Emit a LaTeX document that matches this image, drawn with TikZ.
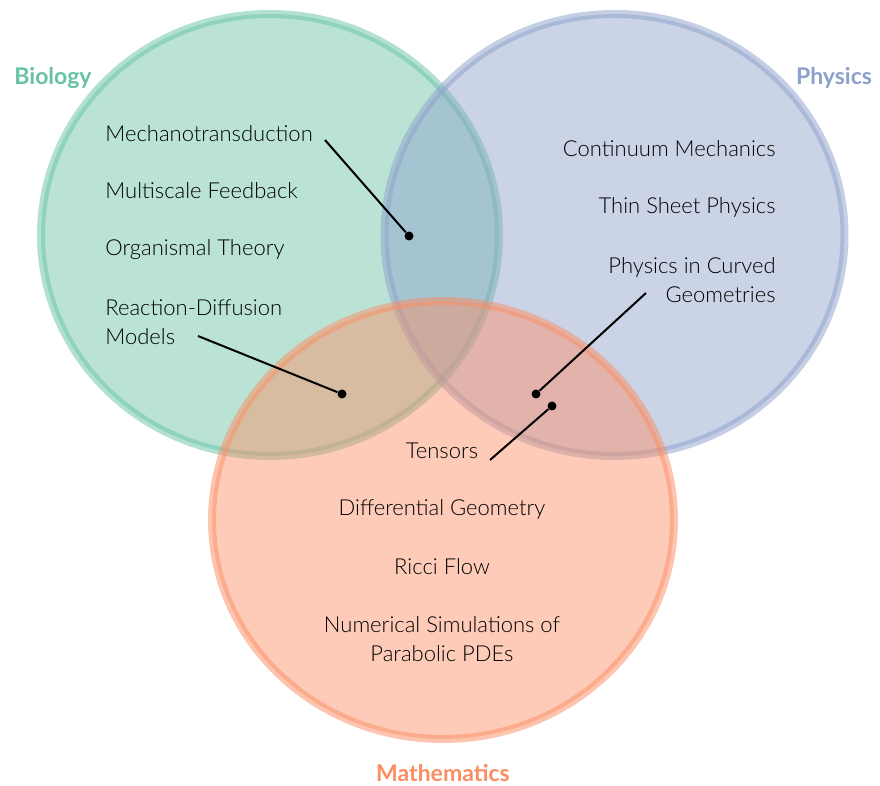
\documentclass[tikz,border=0pt]{standalone}
\usepackage{fontspec}
\setmainfont{Lato Light}[BoldFont={Lato Bold}]
\usepackage{tikz}
\definecolor{bio}{HTML}{66C2A5}
\definecolor{phy}{HTML}{8DA0CB}
\definecolor{mat}{HTML}{FC8D62}
\tikzset{
  setcircle/.style={line width=4pt, draw=#1, draw opacity=0.5, fill=#1, fill opacity=0.45},
  topic/.style={inner sep=0pt, font=\fontsize{11}{14.5}\selectfont},
  field/.style={inner sep=0pt, font=\fontsize{11.5}{14}\selectfont\bfseries, text=#1},
  pin/.style={circle, fill=black, inner sep=0pt, minimum size=4.5pt},
  link/.style={line width=1pt, black},
}
\begin{document}
\begin{tikzpicture}[x=0.5pt, y=-0.5pt]
      \useasboundingbox[fill=white] (0,0) rectangle (880,786);
      % the three sets
      \draw[setcircle=bio] (270,235) ellipse[x radius=114.5pt, y radius=110.5pt];
      \draw[setcircle=phy] (614.5,235) ellipse[x radius=115pt, y radius=110.5pt];
      \draw[setcircle=mat] (443,520) ellipse[x radius=115.5pt, y radius=109.5pt];
      \node[field=bio] (biology) at (53,78) {Biology};
      \node[field=phy] (physics) at (834,78) {Physics};
      \node[field=mat] (maths) at (443,773) {Mathematics};
      % biology topics
      \node[topic, anchor=west] (mech) at (105,134) {Mechanotransduction};
      \node[topic, anchor=west] (multi) at (105,191) {Multiscale Feedback};
      \node[topic, anchor=west] (organ) at (105,250) {Organismal Theory};
      \node[topic, anchor=west, align=left] (react) at (105,322) {Reaction-Diffusion\\Models};
      % physics topics
      \node[topic, anchor=east] (cont) at (776,149) {Continuum Mechanics};
      \node[topic, anchor=east] (thin) at (776,207) {Thin Sheet Physics};
      \node[topic, anchor=east, align=right] (curved) at (776,280) {Physics in Curved\\Geometries};
      % mathematics topics
      \node[topic] (tensors) at (442,451) {Tensors};
      \node[topic] (diffgeo) at (442,509) {Differential Geometry};
      \node[topic] (ricci) at (442,567) {Ricci Flow};
      \node[topic, align=center] (numsim) at (442,639) {Numerical Simulations of\\Parabolic PDEs};
      % pins in the overlaps
      \node[pin] (pbp) at (409,236) {};
      \node[pin] (pbm) at (342,394) {};
      \node[pin] (ppm) at (536,394) {};
      \node[pin] (pmp) at (552,406) {};
      \coordinate (mechend) at (325,140);
      \coordinate (reactend) at (198,336);
      \coordinate (curvedend) at (646,293);
      \coordinate (tensorsend) at (490,460);
      % mechanotransduction -> biology/physics
      \draw[link] (mechend) -- (pbp);
      % reaction-diffusion -> biology/maths
      \draw[link] (reactend) -- (pbm);
      % curved geometries -> physics/maths
      \draw[link] (curvedend) -- (ppm);
      % tensors -> maths/physics
      \draw[link] (tensorsend) -- (pmp);
    \end{tikzpicture}
\end{document}
